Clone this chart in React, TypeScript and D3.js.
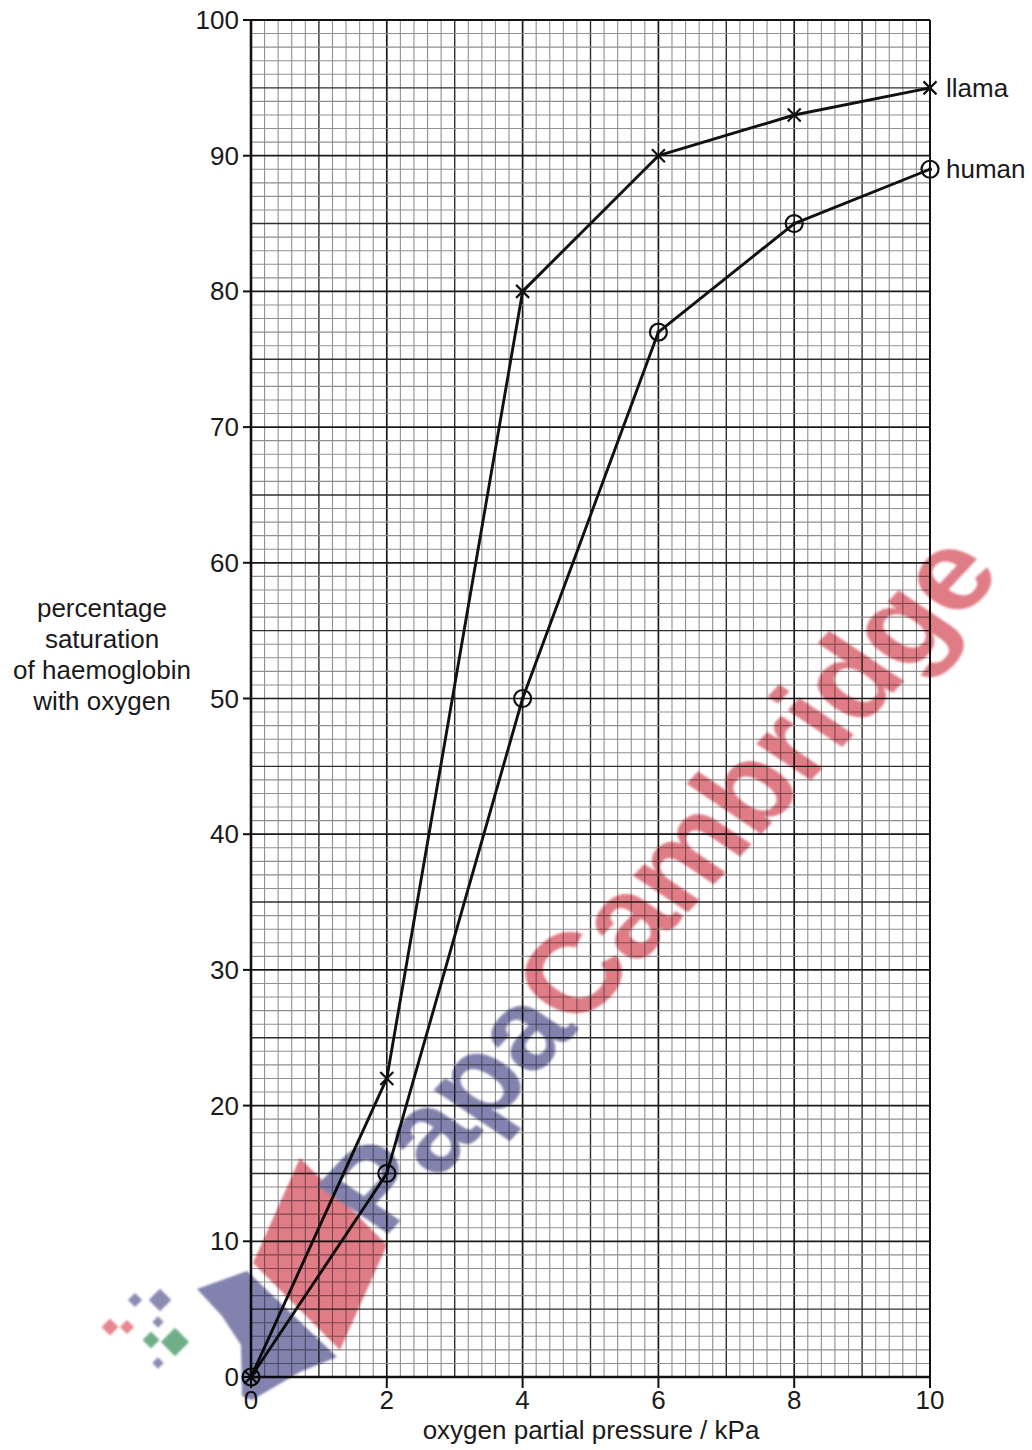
import React from "react";
import * as d3 from "d3";

// ---- data ----
const pressure = [0, 2, 4, 6, 8, 10];
const llamaSat = [0, 22, 80, 90, 93, 95];
const humanSat = [0, 15, 50, 77, 85, 89];
const xTicks = [0, 2, 4, 6, 8, 10];
const yTicks = [0, 10, 20, 30, 40, 50, 60, 70, 80, 90, 100];
const yTitleLines = ["percentage", "saturation", "of haemoglobin", "with oxygen"];
const xTitle = "oxygen partial pressure / kPa";
const seriesNames = ["llama", "human"];

const W = 1032;
const H = 1450;
const FONT = "'Liberation Sans', Arial, Helvetica, sans-serif";

export default function App() {
  const x = d3.scaleLinear().domain([0, 10]).range([251, 930]);
  const y = d3.scaleLinear().domain([0, 100]).range([1377, 20]);

  const minorX = d3.range(0, 50 + 1).map((i) => i * 0.2);
  const minorY = d3.range(0, 100 + 1);

  const line = d3
    .line<number>()
    .x((_, i) => x(pressure[i]))
    .y((d) => y(d));

  const strokeFor = (level: number) => (level === 2 ? "#1a1a1a" : level === 1 ? "#2e2e2e" : "#8f8f8f");
  const widthFor = (level: number) => (level === 2 ? 1.7 : level === 1 ? 1.4 : 1.1);

  const gridLines: React.ReactNode[] = [];
  minorX.forEach((v, i) => {
    const level = i % 10 === 0 ? 2 : i % 5 === 0 ? 1 : 0;
    gridLines.push(
      <line key={"gx" + i} x1={x(v)} x2={x(v)} y1={y(0)} y2={y(100)} stroke={strokeFor(level)} strokeWidth={widthFor(level)} />
    );
  });
  minorY.forEach((v, i) => {
    const level = i % 10 === 0 ? 2 : i % 5 === 0 ? 1 : 0;
    gridLines.push(
      <line key={"gy" + i} x1={x(0)} x2={x(10)} y1={y(v)} y2={y(v)} stroke={strokeFor(level)} strokeWidth={widthFor(level)} />
    );
  });

  // watermark placement (decorative)
  const wmAngle = -47;
  const wmX = 383;
  const wmY = 1240;

  return (
    <svg
      width={W}
      height={H}
      style={{ position: "absolute", left: 0, top: 0, background: "#fff" }}
      fontFamily={FONT}
    >
      <defs>
        <filter id="soft" x="-10%" y="-10%" width="120%" height="120%">
          <feGaussianBlur stdDeviation="0.9" />
        </filter>
      </defs>
      <rect x={0} y={0} width={W} height={H} fill="#fff" />
      <g>{gridLines}</g>

      {/* axes */}
      <line x1={x(0)} x2={x(0)} y1={y(0) + 1} y2={y(100) - 1} stroke="#111" strokeWidth={2.6} />
      <line x1={x(0) - 1} x2={x(10) + 1} y1={y(0)} y2={y(0)} stroke="#111" strokeWidth={2.6} />
      <line x1={x(0)} x2={x(10)} y1={y(100)} y2={y(100)} stroke="#111" strokeWidth={2} />
      <line x1={x(10)} x2={x(10)} y1={y(0)} y2={y(100)} stroke="#111" strokeWidth={1.9} />

      {yTicks.map((t) => (
        <g key={"yt" + t}>
          <line x1={x(0) - 8} x2={x(0)} y1={y(t)} y2={y(t)} stroke="#111" strokeWidth={2} />
          <text x={x(0) - 12} y={y(t) + 9} textAnchor="end" fontSize={26} fill="#1a1a1a">
            {t}
          </text>
        </g>
      ))}
      {xTicks.map((t) => (
        <g key={"xt" + t}>
          <line x1={x(t)} x2={x(t)} y1={y(0)} y2={y(0) + 11} stroke="#111" strokeWidth={2} />
          <text x={x(t)} y={1409} textAnchor="middle" fontSize={26} fill="#1a1a1a">
            {t}
          </text>
        </g>
      ))}

      {yTitleLines.map((s, i) => (
        <text key={"yl" + i} x={102} y={617 + i * 31} textAnchor="middle" fontSize={26} fill="#1a1a1a">
          {s}
        </text>
      ))}
      <text x={591} y={1439} textAnchor="middle" fontSize={26} fill="#1a1a1a">
        {xTitle}
      </text>

      {/* series lines */}
      <path d={line(llamaSat) || ""} fill="none" stroke="#111" strokeWidth={2.9} strokeLinejoin="round" />
      <path d={line(humanSat) || ""} fill="none" stroke="#111" strokeWidth={2.9} strokeLinejoin="round" />

      {/* llama markers: crosses */}
      {llamaSat.map((v, i) => {
        const cx = x(pressure[i]);
        const cy = y(v);
        const r = 6.5;
        return (
          <g key={"lm" + i} stroke="#111" strokeWidth={2.2}>
            <line x1={cx - r} y1={cy - r} x2={cx + r} y2={cy + r} />
            <line x1={cx - r} y1={cy + r} x2={cx + r} y2={cy - r} />
          </g>
        );
      })}
      {/* human markers: circles with dot */}
      {humanSat.map((v, i) => {
        const cx = x(pressure[i]);
        const cy = y(v);
        return (
          <g key={"hm" + i}>
            <circle cx={cx} cy={cy} r={8.5} fill="none" stroke="#111" strokeWidth={2.2} />
            <circle cx={cx} cy={cy} r={2} fill="#111" />
          </g>
        );
      })}

      {/* series labels */}
      <text x={946} y={97} fontSize={26} fill="#1a1a1a">
        {seriesNames[0]}
      </text>
      <text x={946} y={178} fontSize={26} fill="#1a1a1a">
        {seriesNames[1]}
      </text>

      {/* watermark */}
      <g style={{ mixBlendMode: "multiply" }} filter="url(#soft)">
        <polygon points="300,1158 387,1245 340,1350 253,1263" fill="#e07c85" />
        <polygon
          points="197,1289 247,1271 337,1357 300,1372 252,1400 242,1396 241,1345 222,1316"
          fill="#8282ae"
        />
        <rect x={-5} y={-5} width={10} height={10} fill="#8a8ab2" transform="translate(135,1300) rotate(45)" />
        <rect x={-8} y={-8} width={16} height={16} fill="#8a8ab2" transform="translate(160,1300) rotate(45)" />
        <rect x={-6} y={-6} width={12} height={12} fill="#e6868e" transform="translate(110,1327) rotate(45)" />
        <rect x={-5} y={-5} width={10} height={10} fill="#e6868e" transform="translate(127,1327) rotate(45)" />
        <rect x={-4} y={-4} width={8} height={8} fill="#8a8ab2" transform="translate(158,1322) rotate(45)" />
        <rect x={-6} y={-6} width={12} height={12} fill="#6fae86" transform="translate(151,1340) rotate(45)" />
        <rect x={-10} y={-10} width={20} height={20} fill="#6fae86" transform="translate(175,1342) rotate(45)" />
        <rect x={-4} y={-4} width={8} height={8} fill="#8a8ab2" transform="translate(158,1363) rotate(45)" />
        <text
          transform={`translate(${wmX},${wmY}) rotate(${wmAngle}) skewX(9)`}
          fontSize={123}
          fontWeight="bold"
          fontFamily="'Liberation Sans', Arial, sans-serif"
          textLength={912}
          lengthAdjust="spacing"
        >
          <tspan fill="#8282ae">Papa</tspan>
          <tspan fill="#e07c85">Cambridge</tspan>
        </text>
      </g>
    </svg>
  );
}
